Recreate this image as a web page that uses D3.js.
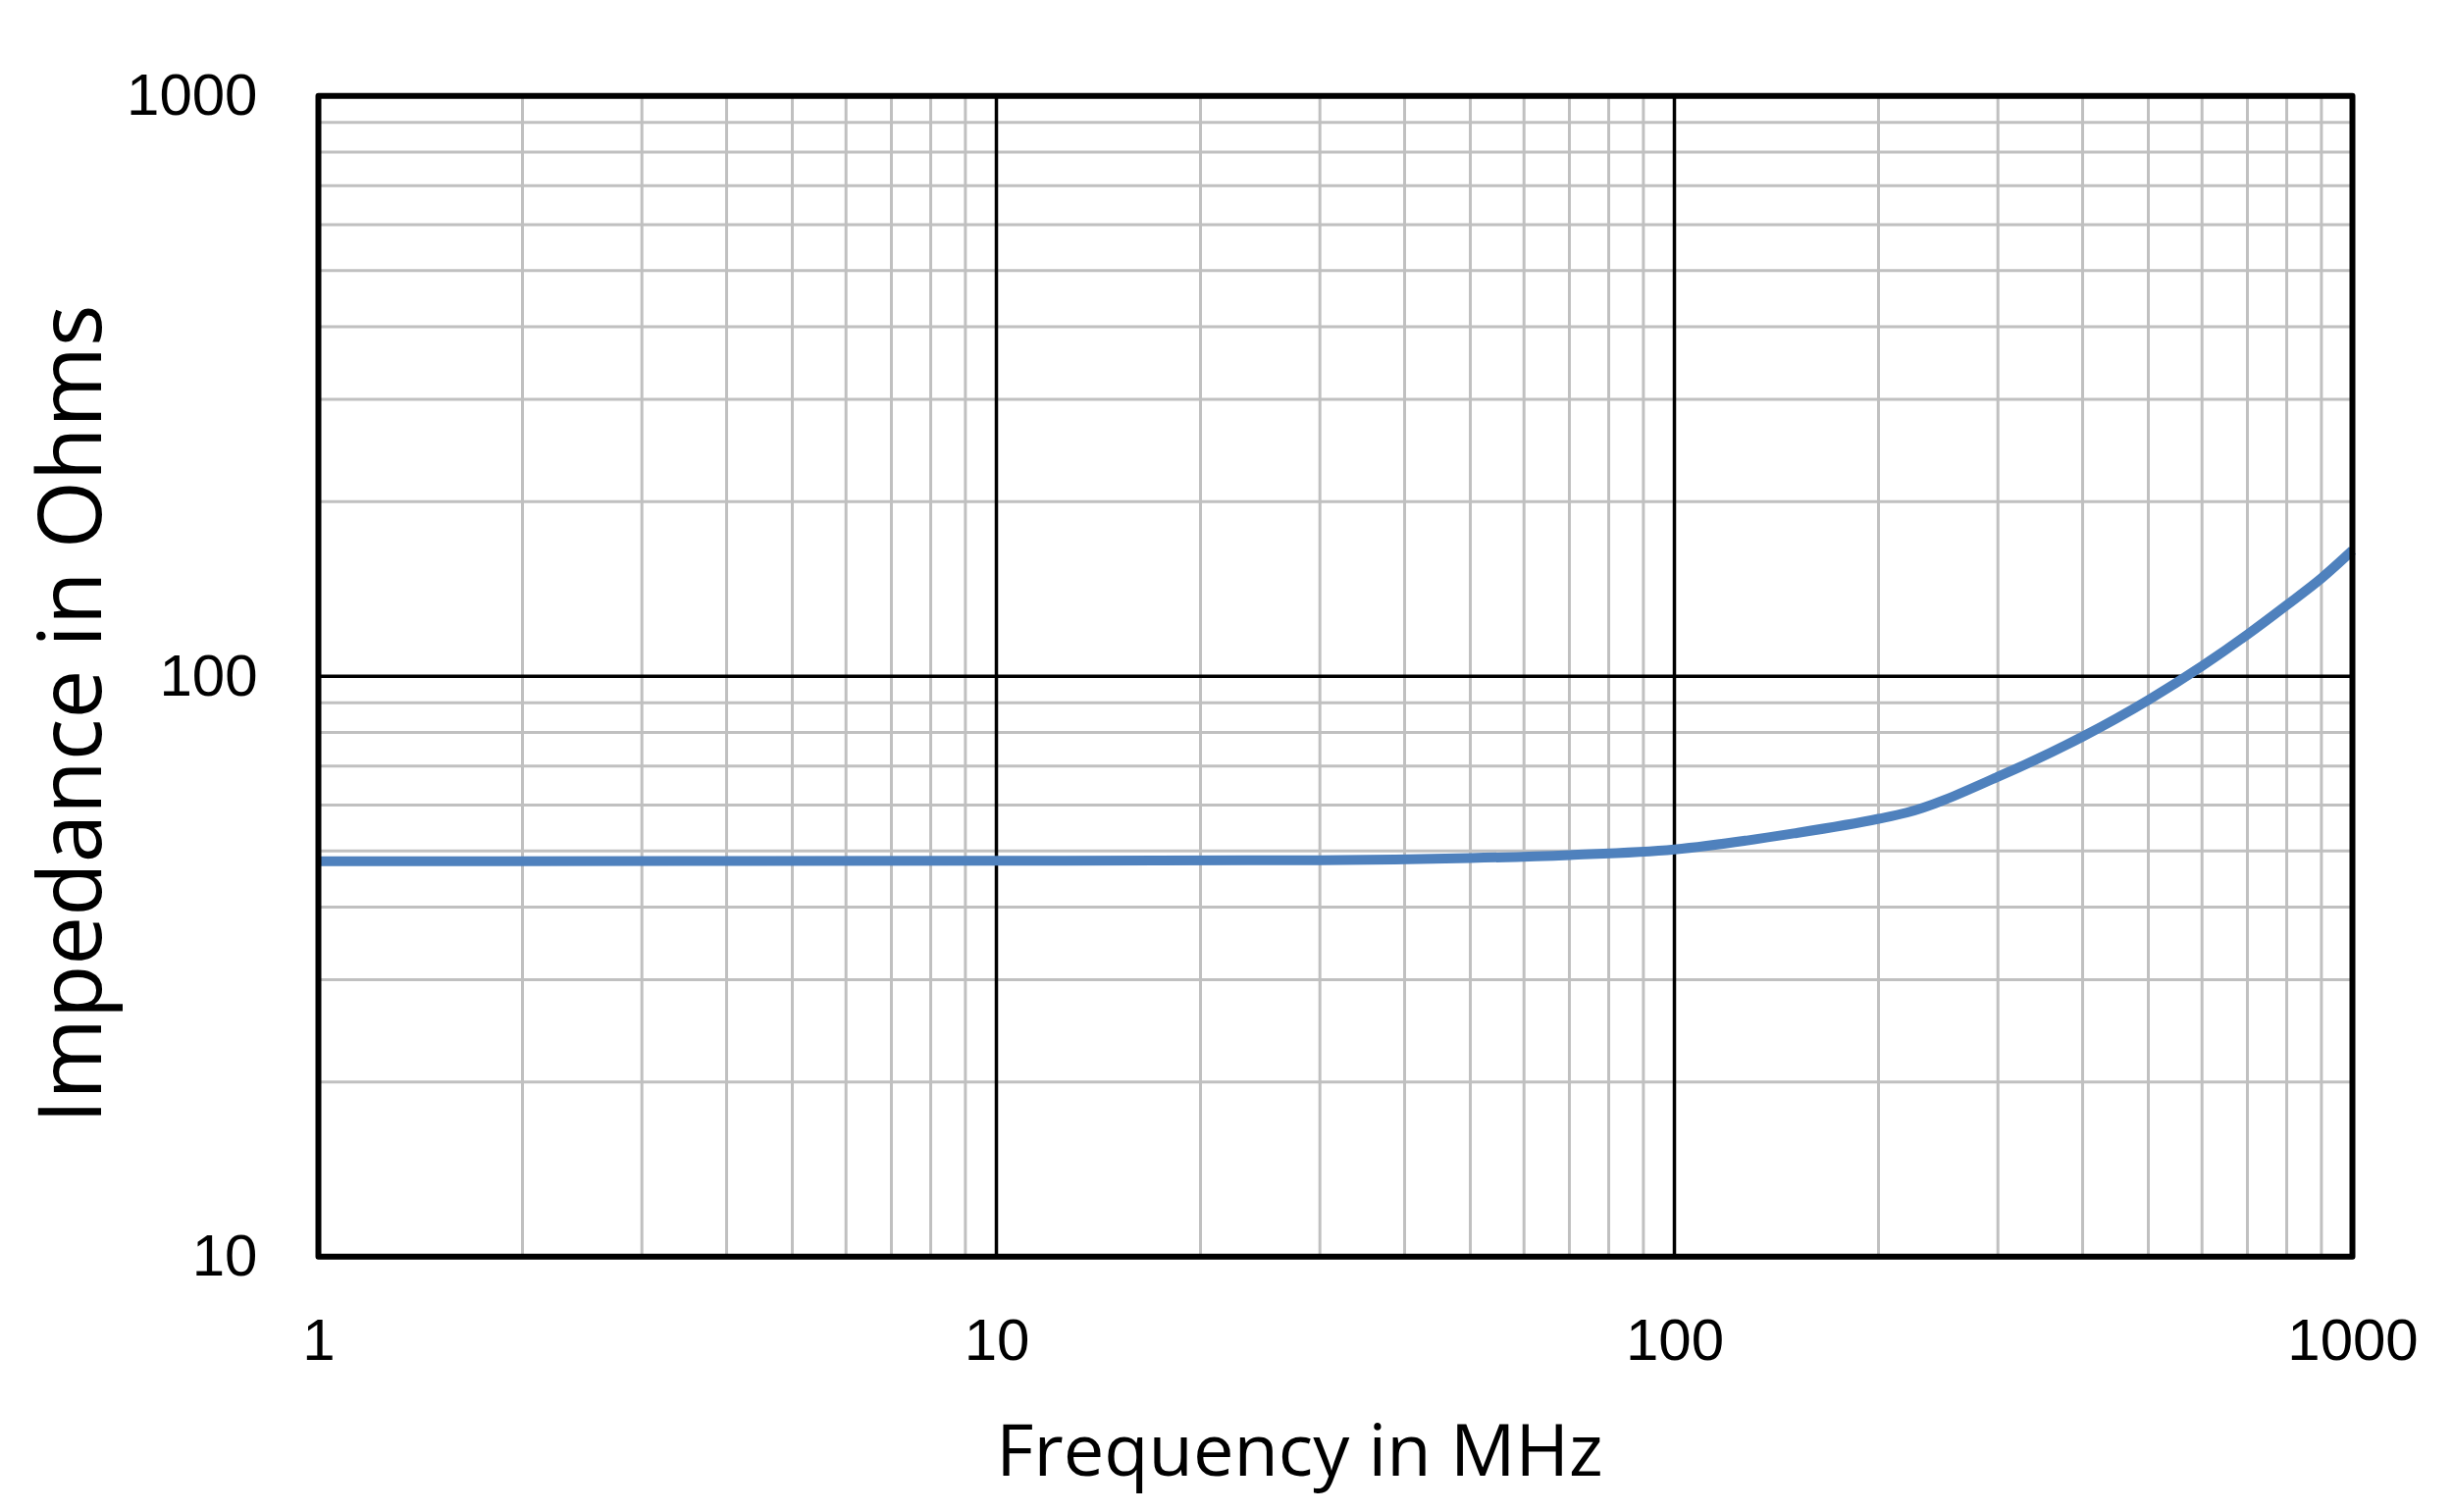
<!DOCTYPE html>
<html>
<head>
<meta charset="utf-8">
<script src="https://cdn.jsdelivr.net/npm/d3@7"></script>
<style>
  body { margin: 0; background: #fff; }
  svg { display: block; font-family: "Open Sans", sans-serif; }
  .grid-minor { stroke: #c0c0c0; stroke-width: 3; }
  .grid-major { stroke: #000; stroke-width: 3.5; }
  .tick text { font-size: 60px; fill: #000; }
  .axis-title { fill: #000; }
</style>
</head>
<body>
<div id="chart"></div>
<script>
// readings (MHz / Ohms)
const freq = [1, 10, 30, 50, 70, 100, 150, 200, 220, 300, 400, 500, 600, 700, 800, 900, 1000]
const impedance = [48.0, 48.1, 48.2, 48.6, 49.2, 50.3, 53.6, 56.8, 58.2, 67.1, 78.7, 91.0, 104.1, 118, 132.6, 147.5, 164.7]

const xTicks = [1, 10, 100, 1000]
const yTicks = [10, 100, 1000]
const xTitle = 'Frequency in MHz'
const yTitle = 'Impedance in Ohms'

const width = 2500
const height = 1541
const margin = {top: 97.7, right: 102.5, bottom: 260.3, left: 324.5}

const svg = d3.select('#chart').append('svg')
  .attr('width', width)
  .attr('height', height)

const x = d3.scaleLog()
  .domain([1, 1000])
  .range([margin.left, width - margin.right])

const y = d3.scaleLog()
  .domain([10, 1000])
  .range([height - margin.bottom, margin.top])

const isDecade = v => Math.abs(Math.log10(v) - Math.round(Math.log10(v))) < 1e-9

// gridlines
const grid = svg.append('g')

grid.selectAll('.vx')
  .data(x.ticks().filter(v => !isDecade(v)))
  .join('line')
  .attr('class', 'grid-minor')
  .attr('x1', d => x(d)).attr('x2', d => x(d))
  .attr('y1', y.range()[1]).attr('y2', y.range()[0])

grid.selectAll('.hy')
  .data(y.ticks().filter(v => !isDecade(v)))
  .join('line')
  .attr('class', 'grid-minor')
  .attr('y1', d => y(d)).attr('y2', d => y(d))
  .attr('x1', x.range()[0]).attr('x2', x.range()[1])

grid.selectAll('.vmaj')
  .data(xTicks.slice(1, -1))
  .join('line')
  .attr('class', 'grid-major')
  .attr('x1', d => x(d)).attr('x2', d => x(d))
  .attr('y1', y.range()[1]).attr('y2', y.range()[0])

grid.selectAll('.hmaj')
  .data(yTicks.slice(1, -1))
  .join('line')
  .attr('class', 'grid-major')
  .attr('y1', d => y(d)).attr('y2', d => y(d))
  .attr('x1', x.range()[0]).attr('x2', x.range()[1])

// impedance curve
const line = d3.line()
  .x(d => x(d[0]))
  .y(d => y(d[1]))
  .curve(d3.curveMonotoneX)

svg.append('path')
  .datum(d3.zip(freq, impedance))
  .attr('fill', 'none')
  .attr('stroke', '#4f81bd')
  .attr('stroke-width', 10)
  .attr('d', line)

// plot border
svg.append('rect')
  .attr('x', x.range()[0])
  .attr('y', y.range()[1])
  .attr('width', x.range()[1] - x.range()[0])
  .attr('height', y.range()[0] - y.range()[1])
  .attr('fill', 'none')
  .attr('stroke', '#000')
  .attr('stroke-width', 6)
  .attr('stroke-linejoin', 'round')

// axes
const xAxis = g => g
  .attr('transform', `translate(0,${y.range()[0]})`)
  .call(d3.axisBottom(x).tickValues(xTicks).tickFormat(d3.format('d')).tickSize(0))
  .call(g => g.select('.domain').remove())
  .call(g => g.selectAll('.tick text').attr('y', 105.3).attr('dy', null))

const yAxis = g => g
  .attr('transform', `translate(${x.range()[0]},0)`)
  .call(d3.axisLeft(y).tickValues(yTicks).tickFormat(d3.format('d')).tickSize(0))
  .call(g => g.select('.domain').remove())
  .call(g => g.selectAll('.tick text').attr('x', -62).attr('y', 19).attr('dy', null))

svg.append('g').call(xAxis)
svg.append('g').call(yAxis)

svg.selectAll('.tick text').attr('font-family', null).attr('font-size', null)

// titles
svg.append('text')
  .attr('class', 'axis-title')
  .attr('x', 1324.5)
  .attr('y', 1504)
  .attr('text-anchor', 'middle')
  .attr('font-size', 74)
  .text(xTitle)

svg.append('text')
  .attr('class', 'axis-title')
  .attr('transform', 'translate(103,728) rotate(-90)')
  .attr('text-anchor', 'middle')
  .attr('font-size', 89)
  .text(yTitle)
</script>
</body>
</html>
